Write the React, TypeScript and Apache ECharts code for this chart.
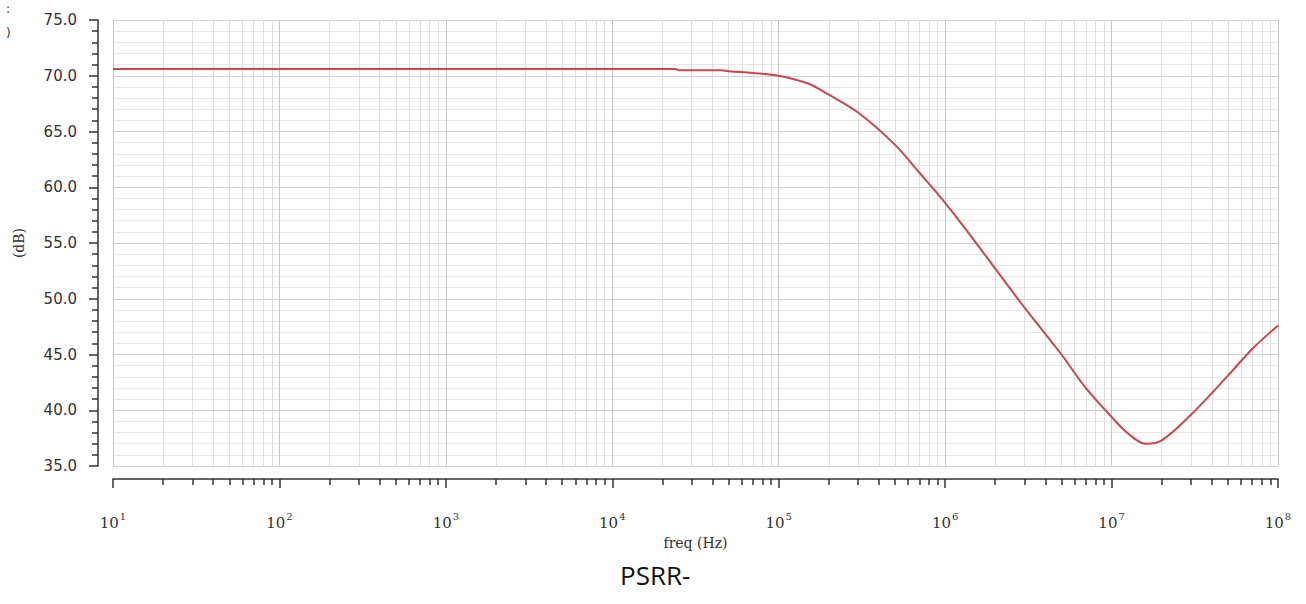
import React, { useEffect, useRef } from "react";
import * as echarts from "echarts";

// frequency (Hz)
const freq = [
  10, 100, 1e3, 1e4, 2.4e4, 2.5e4, 4.5e4, 5e4, 7e4, 1e5, 1.5e5, 2e5, 3e5, 5e5, 7e5,
  1e6, 1.5e6, 2e6, 3e6, 5e6, 7e6, 1e7, 1.26e7, 1.6e7, 2e7, 3e7, 5e7, 7e7, 1e8,
];
// PSRR- (dB)
const psrr = [
  70.6, 70.6, 70.6, 70.6, 70.6, 70.5, 70.5, 70.4, 70.25, 70.0, 69.3, 68.3, 66.7, 63.8, 61.3,
  58.6, 55.2, 52.7, 49.2, 45.0, 42.0, 39.4, 37.9, 37.0, 37.3, 39.6, 43.1, 45.5, 47.6,
];
const decades = [1, 2, 3, 4, 5, 6, 7, 8];
const minorMult = [2, 3, 4, 5, 6, 7, 8, 9];
const yTicks = [35, 40, 45, 50, 55, 60, 65, 70, 75];

export default function App() {
  const ref = useRef<HTMLDivElement>(null);
  useEffect(() => {
    if (!ref.current) return;
    const chart = echarts.init(ref.current, undefined, { renderer: "svg" });
    const minorExp: number[] = [];
    decades.slice(0, -1).forEach((d) => minorMult.forEach((m) => minorExp.push(d + Math.log10(m))));
    chart.setOption({
      animation: false,
      backgroundColor: "#fff",
      grid: { left: 113, right: 28, top: 20, bottom: 138, containLabel: false },
      xAxis: [
        {
          type: "log",
          logBase: 10,
          min: 10,
          max: 1e8,
          offset: 13,
          position: "bottom",
          name: "freq (Hz)",
          nameLocation: "middle",
          nameGap: 57,
          nameTextStyle: { fontFamily: "DejaVu Serif", fontSize: 14, color: "#333" },
          axisLine: { show: true, lineStyle: { color: "#333", width: 1.5 } },
          axisTick: { show: true, length: 9, lineStyle: { color: "#333", width: 1.5 } },
          splitLine: { show: true, lineStyle: { color: "#c8c8c8", width: 1 } },
          axisLabel: {
            margin: 32,
            formatter: (v: number) => `{b|10}{s|${Math.round(Math.log10(v))}}`,
            rich: {
              b: { fontFamily: "DejaVu Serif", fontSize: 15, color: "#333" },
              s: { fontFamily: "DejaVu Serif", fontSize: 10, color: "#333", padding: [0, 0, 14, 1] },
            },
          },
        },
        {
          type: "value",
          min: 1,
          max: 8,
          offset: 13,
          position: "bottom",
          axisLine: { show: false },
          axisTick: { show: true, length: 6, customValues: minorExp, lineStyle: { color: "#333", width: 1.5 } },
          axisLabel: { show: false, customValues: minorExp },
          splitLine: { show: true, lineStyle: { color: "#dedede", width: 1 } },
        },
      ],
      yAxis: {
        type: "value",
        min: yTicks[0],
        max: yTicks[yTicks.length - 1],
        interval: 5,
        offset: 15,
        name: "(dB)",
        nameLocation: "middle",
        nameGap: 72,
        nameTextStyle: { fontFamily: "DejaVu Serif", fontSize: 14, color: "#333" },
        axisLine: { show: true, lineStyle: { color: "#333", width: 1.5 } },
        axisTick: { show: true, length: 9, lineStyle: { color: "#333", width: 1.5 } },
        minorTick: { show: true, splitNumber: 5, length: 6, lineStyle: { color: "#333", width: 1.5 } },
        splitLine: { show: true, lineStyle: { color: "#d0d0d0", width: 1 } },
        minorSplitLine: { show: true, lineStyle: { color: "#e8e8e8", width: 1 } },
        axisLabel: {
          margin: 21,
          formatter: (v: number) => v.toFixed(1),
          fontFamily: "DejaVu Sans",
          fontSize: 15,
          color: "#333",
        },
      },
      series: [
        {
          type: "line",
          xAxisIndex: 0,
          data: freq.map((f, i) => [f, psrr[i]]),
          showSymbol: false,
          smooth: 0.35,
          lineStyle: { color: "#c9474f", width: 2 },
        },
      ],
      graphic: [
        { type: "text", left: 620, top: 562, style: { text: "PSRR-", font: "26px 'Open Sans'", fill: "#111" } },
        { type: "text", left: 6, top: 3, style: { text: ":", font: "12px 'DejaVu Sans'", fill: "#333" } },
        { type: "text", left: 6, top: 27, style: { text: ")", font: "12px 'DejaVu Sans'", fill: "#333" } },
      ],
    });
    return () => chart.dispose();
  }, []);
  return (
    <div
      ref={ref}
      style={{ position: "absolute", left: 0, top: 0, width: 1306, height: 604, background: "#fff" }}
    />
  );
}
